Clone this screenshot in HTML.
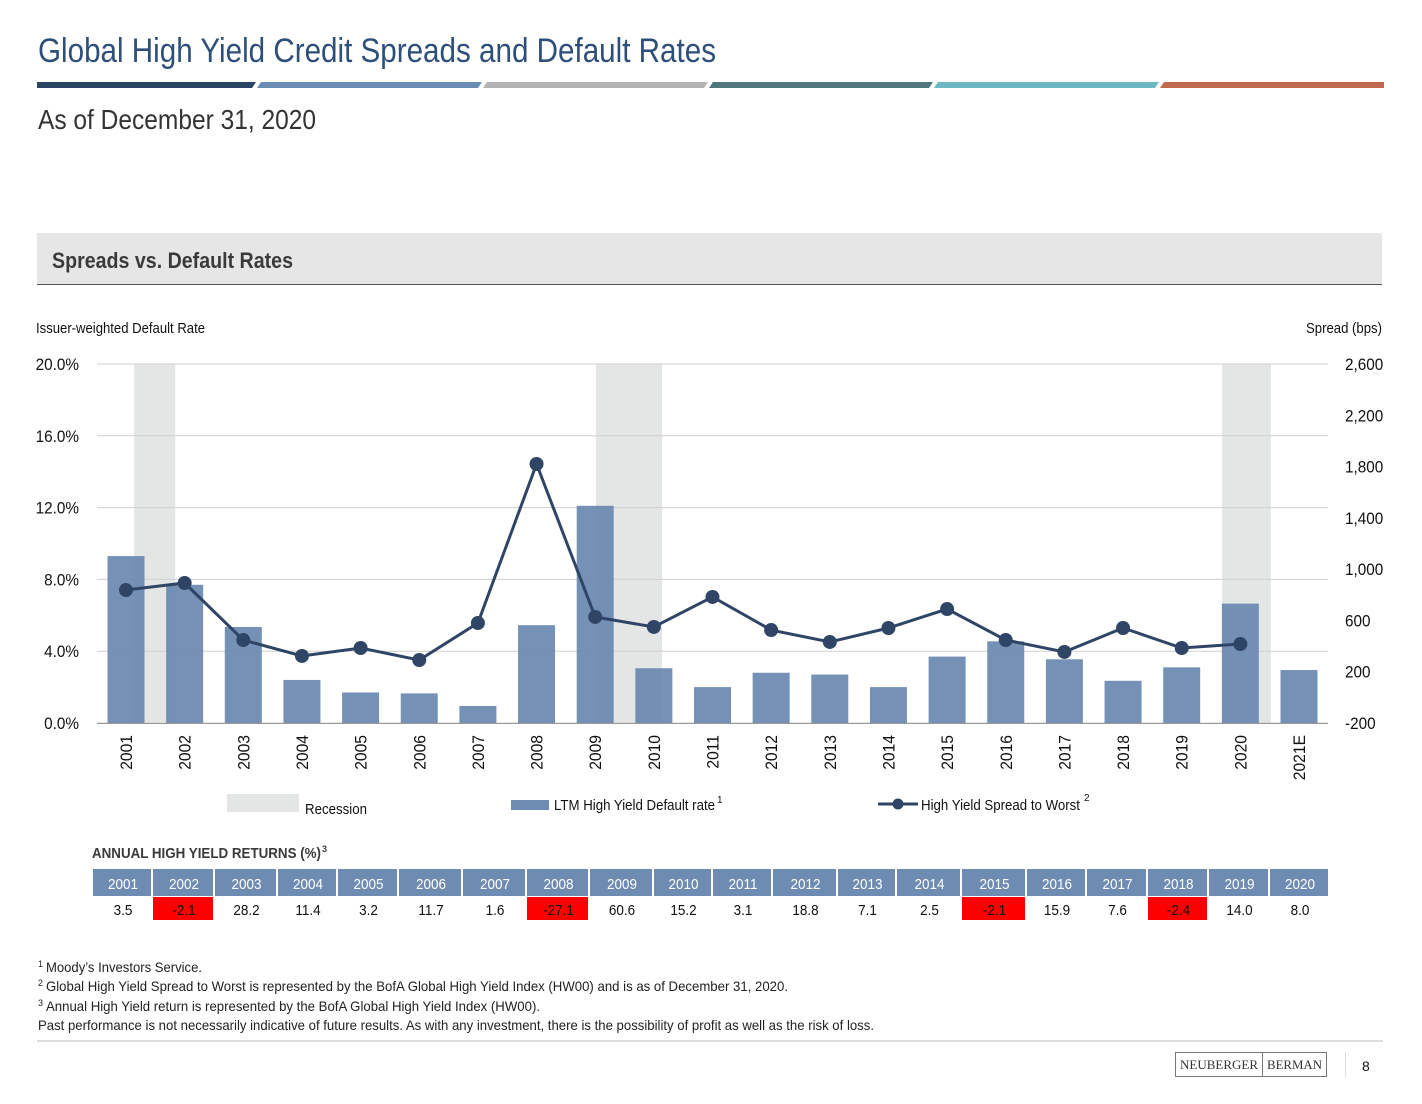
<!DOCTYPE html>
<html><head><meta charset="utf-8"><style>
html,body{margin:0;padding:0;background:#fff;}
svg{display:block;font-family:"Liberation Sans Narrow","Liberation Sans",sans-serif;}
</style></head><body>
<svg id="chart" width="1422" height="1104" viewBox="0 0 1422 1104" xmlns="http://www.w3.org/2000/svg">
<text x="38" y="62" font-size="34" fill="#2d4f7a" textLength="678" lengthAdjust="spacingAndGlyphs">Global High Yield Credit Spreads and Default Rates</text>
<g>
<polygon points="37,82 256,82 252,88 37,88" fill="#2a4466"/>
<polygon points="261,82 482,82 478,88 257,88" fill="#6a8db7"/>
<polygon points="487,82 708,82 704,88 483,88" fill="#b3b3b3"/>
<polygon points="713,82 933,82 929,88 709,88" fill="#4e7779"/>
<polygon points="938,82 1159,82 1155,88 934,88" fill="#6bb8c2"/>
<polygon points="1164,82 1384,82 1384,88 1160,88" fill="#c0684c"/>
</g>
<text x="38" y="129" font-size="28" fill="#333" textLength="278" lengthAdjust="spacingAndGlyphs">As of December 31, 2020</text>
<rect x="37" y="233" width="1345" height="51" fill="#e6e6e6"/>
<line x1="37" y1="284.5" x2="1382" y2="284.5" stroke="#555" stroke-width="1"/>
<text x="52" y="268" font-size="22" font-weight="bold" fill="#3a3a3a" textLength="241" lengthAdjust="spacingAndGlyphs">Spreads vs. Default Rates</text>
<text x="36" y="333" font-size="15" fill="#111" textLength="169" lengthAdjust="spacingAndGlyphs">Issuer-weighted Default Rate</text>
<text x="1382" y="333" font-size="15" fill="#111" text-anchor="end" textLength="76" lengthAdjust="spacingAndGlyphs">Spread (bps)</text>
<g id="plot"></g>
<g>
<rect x="227" y="794" width="72" height="18" fill="#e4e5e5"/>
<text x="305" y="814" font-size="15" fill="#111" textLength="62" lengthAdjust="spacingAndGlyphs">Recession</text>
<rect x="511" y="800" width="38" height="10" fill="#6e8bb1"/>
<text x="554" y="810" font-size="15" fill="#111" textLength="161" lengthAdjust="spacingAndGlyphs">LTM High Yield Default rate</text>
<text x="717" y="803" font-size="10" fill="#111">1</text>
<line x1="878" y1="804" x2="918" y2="804" stroke="#2f4566" stroke-width="3"/>
<circle cx="898" cy="804" r="5.5" fill="#2f4566"/>
<text x="921" y="810" font-size="15" fill="#111" textLength="159" lengthAdjust="spacingAndGlyphs">High Yield Spread to Worst</text>
<text x="1084" y="801" font-size="10" fill="#111">2</text>
</g>
<text x="92" y="858" font-size="15" font-weight="bold" fill="#3a3a3a" textLength="229" lengthAdjust="spacingAndGlyphs">ANNUAL HIGH YIELD RETURNS  (%)</text>
<text x="322" y="852" font-size="9" font-weight="bold" fill="#3a3a3a">3</text>
<g id="table"></g>
<g font-size="14" fill="#222">
<text x="38" y="967" font-size="9">1</text><text x="46" y="972" textLength="156" lengthAdjust="spacingAndGlyphs">Moody’s Investors Service.</text>
<text x="38" y="986" font-size="9">2</text><text x="46" y="991" textLength="742" lengthAdjust="spacingAndGlyphs">Global High Yield Spread to Worst is represented by the BofA Global High Yield Index (HW00) and is as of December 31, 2020.</text>
<text x="38" y="1006" font-size="9">3</text><text x="46" y="1011" textLength="494" lengthAdjust="spacingAndGlyphs">Annual High Yield return is represented by the BofA Global High Yield Index (HW00).</text>
<text x="38" y="1030" textLength="836" lengthAdjust="spacingAndGlyphs">Past performance is not necessarily indicative of future results. As with any investment, there is the possibility of profit as well as the risk of loss.</text>
</g>
<line x1="37" y1="1041" x2="1383" y2="1041" stroke="#bbb" stroke-width="1"/>
<g>
<rect x="1175.5" y="1052.5" width="151" height="24" fill="#fff" stroke="#777"/>
<line x1="1262.5" y1="1052" x2="1262.5" y2="1077" stroke="#777"/>
<text x="1180" y="1069" font-size="13" font-family="Liberation Serif,serif" fill="#333" textLength="78" lengthAdjust="spacingAndGlyphs">NEUBERGER</text>
<text x="1267" y="1069" font-size="13" font-family="Liberation Serif,serif" fill="#333" textLength="55" lengthAdjust="spacingAndGlyphs">BERMAN</text>
</g>
<line x1="1345.5" y1="1052" x2="1345.5" y2="1077" stroke="#ddd"/>
<text x="1362" y="1071" font-size="14" fill="#111">8</text>
</svg>
<script>
const years = ["2001","2002","2003","2004","2005","2006","2007","2008","2009","2010","2011","2012","2013","2014","2015","2016","2017","2018","2019","2020","2021E"];
const defaultRates = [9.3,7.7,5.35,2.4,1.7,1.65,0.95,5.45,12.1,3.05,2.0,2.8,2.7,2.0,3.7,4.55,3.55,2.35,3.1,6.65,2.95];
const spreads = [837,892,447,323,385,291,580,1820,627,549,783,525,432,541,689,447,354,541,385,416];
const recessionStarts = [2001.14,2009.01,2019.69];
const recessionEnds = [2001.84,2010.14,2020.52];
const leftTicks = [0,4,8,12,16,20];
const rightTicks = [-200,200,600,1000,1400,1800,2200,2600];
const returnYears = ["2001","2002","2003","2004","2005","2006","2007","2008","2009","2010","2011","2012","2013","2014","2015","2016","2017","2018","2019","2020"];
const returnValues = [3.5,-2.1,28.2,11.4,3.2,11.7,1.6,-27.1,60.6,15.2,3.1,18.8,7.1,2.5,-2.1,15.9,7.6,-2.4,14.0,8.0];

const NS="http://www.w3.org/2000/svg";
function mk(tag,attrs,parent,txt){const e=document.createElementNS(NS,tag);for(const k in attrs)e.setAttribute(k,attrs[k]);if(txt!==undefined)e.textContent=txt;parent.appendChild(e);return e;}
const plot=document.getElementById('plot');
const y0=723,y1=364,xFirst=126,step=(1299-126)/20;
const yL=v=>y0-(v/20)*(y0-y1);
const yR=v=>y0-((v+200)/2800)*(y0-y1);
const xC=i=>xFirst+i*step;
const xYear=t=>xFirst+(t-2001)*step;

recessionStarts.forEach((s,k)=>{
  const rc=mk('rect',{x:xYear(s),y:y1,width:xYear(recessionEnds[k])-xYear(s),height:y0-y1,fill:'#e4e5e5'},plot);
  
  
});
leftTicks.forEach(t=>{
  mk('line',{x1:97,x2:1328,y1:yL(t),y2:yL(t),stroke:'#d0d0d0','stroke-width':1},plot);
  const tx=mk('text',{x:79,y:yL(t)+6,'font-size':17,'text-anchor':'end',fill:'#111',transform:`translate(79,0) scale(0.9,1) translate(-79,0)`},plot,t.toFixed(1)+'%');
  
  
});
rightTicks.forEach(t=>{
  const tx=mk('text',{x:1345,y:yR(t)+6,'font-size':17,fill:'#111',transform:`translate(1345,0) scale(0.9,1) translate(-1345,0)`},plot,t.toLocaleString('en-US'));
  
  
});
mk('line',{x1:97,x2:1328,y1:y0+0.5,y2:y0+0.5,stroke:'#999'},plot);
defaultRates.forEach((v,i)=>{
  const b=mk('rect',{x:xC(i)-18.5,y:yL(v),width:37,height:y0-yL(v),fill:'#6a88b0','fill-opacity':0.92},plot);
  
  
  const tx=mk('text',{x:0,y:0,'font-size':17,'text-anchor':'end',fill:'#111',transform:`translate(${xC(i)+6},${y0+12}) rotate(-90) scale(0.92,1)`},plot,years[i]);
  
  
});
const pts=spreads.map((v,i)=>xC(i)+','+yR(v)).join(' ');
const ln=mk('polyline',{points:pts,fill:'none',stroke:'#2f4566','stroke-width':3},plot);


spreads.forEach((v,i)=>{
  const c=mk('circle',{cx:xC(i),cy:yR(v),r:7,fill:'#2f4566'},plot);
  
  
});
const tbl=document.getElementById('table');
const edges=[93,153,215,278,338,399,463,527,590,654,713,773,838,897,962,1027,1087,1148,1209,1270,1330];
returnYears.forEach((yv,i)=>{
  const xa=edges[i],xb=edges[i+1],cx=(xa+xb)/2;
  mk('rect',{x:xa,y:869,width:xb-xa-2,height:27,fill:'#6e8bb1'},tbl);
  const h=mk('text',{x:cx,y:889,'font-size':15,'text-anchor':'middle',fill:'#fff',transform:`translate(${cx},0) scale(0.9,1) translate(${-cx},0)`},tbl,yv);
  
  
  const v=returnValues[i];
  if(v<0) mk('rect',{x:xa,y:897,width:xb-xa-2,height:23,fill:'#ff0000'},tbl);
  const t=mk('text',{x:cx,y:915,'font-size':15,'text-anchor':'middle',fill:'#111',transform:`translate(${cx},0) scale(0.9,1) translate(${-cx},0)`},tbl,v.toFixed(1));
  
  
});
</script>
</body></html>
